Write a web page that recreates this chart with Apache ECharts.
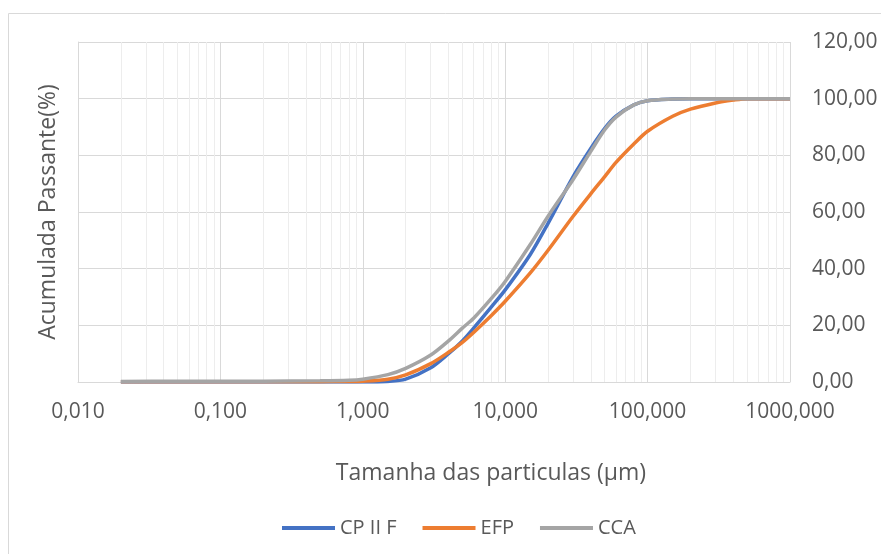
<!DOCTYPE html>
<html lang="pt">
<head>
    <meta charset="UTF-8">
    <title>Curva granulométrica</title>
    <style>
        html, body { margin: 0; padding: 0; background: #fff; }
        #chart { width: 881px; height: 554px; }
    </style>
    <script src="https://cdn.jsdelivr.net/npm/echarts@6/dist/echarts.min.js"></script>
</head>
<body>
<div id="chart"></div>
<script>
    // particle sizes (µm) and cumulative passing (%)
    var sizes = [0.02, 0.05, 0.1, 0.2, 0.5, 0.8, 1, 1.5, 2, 3, 4, 5, 6, 8, 10, 15, 20, 30, 40, 50, 60, 80, 100, 150, 200, 300, 400, 500, 1000];
    var cp2f = [0, 0, 0, 0, 0, 0, 0, 0.2, 1, 5, 10, 14.5, 19, 26.5, 32.5, 45, 56, 72.5, 82.5, 89.5, 93.8, 97.8, 99.3, 99.9, 100, 100, 100, 100, 100];
    var efp = [0.1, 0.1, 0.1, 0.1, 0.1, 0.2, 0.3, 1, 2.5, 6.5, 10.5, 14, 17.5, 23.5, 28.5, 38.5, 46.5, 58.5, 66.5, 72.5, 77.5, 84, 88.5, 93.8, 96.3, 98.5, 99.5, 100, 100];
    var cca = [0.2, 0.25, 0.3, 0.3, 0.4, 0.6, 1, 2.6, 4.8, 9.5, 14.5, 19, 22.5, 29.5, 35.5, 48.5, 58.5, 71.5, 81.5, 89, 93.5, 97.8, 99.3, 99.9, 100, 100, 100, 100, 100];
    var seriesNames = ['CP II F', 'EFP', 'CCA'];
    var seriesColors = ['#4472C4', '#ED7D31', '#A5A5A5'];

    var font = '"Open Sans", "Liberation Sans", sans-serif';
    var textColor = '#595959';

    // log minor grid lines: 2..9 in every decade
    var minorLines = [];
    for (var d = -2; d < 3; d++) {
        for (var k = 2; k <= 9; k++) {
            minorLines.push({ xAxis: k * Math.pow(10, d) });
        }
    }

    function pairs(values) {
        return sizes.map(function (s, i) { return [s, values[i]]; });
    }

    var chart = echarts.init(document.getElementById('chart'));

    var lineSeries = [cp2f, efp, cca].map(function (vals, i) {
        return {
            name: seriesNames[i],
            type: 'line',
            data: pairs(vals),
            yAxisIndex: 0,
            smooth: 0.3,
            showSymbol: false,
            symbol: 'none',
            z: 3 + i,
            lineStyle: { color: seriesColors[i], width: 3.5 },
            itemStyle: { color: seriesColors[i] }
        };
    });

    lineSeries.unshift({
        name: 'minor',
        type: 'line',
        data: [],
        z: 1,
        silent: true,
        markLine: {
            z: 1,
            silent: true,
            symbol: 'none',
            label: { show: false },
            animation: false,
            lineStyle: { color: '#EDEDED', width: 1, type: 'solid' },
            data: minorLines
        }
    });

    chart.setOption({
        animation: false,
        textStyle: { fontFamily: font },
        graphic: [{
            type: 'rect',
            shape: { x: 8.5, y: 13.5, width: 1000, height: 1000 },
            style: { fill: 'none', stroke: '#D9D9D9', lineWidth: 1 },
            silent: true
        }],
        grid: { left: 78, right: 91, top: 42, bottom: 172 },
        legend: {
            data: seriesNames,
            left: 277,
            top: 513,
            icon: 'rect',
            itemWidth: 53,
            itemHeight: 4,
            itemGap: 26,
            textStyle: { color: textColor, fontSize: 20, fontFamily: font }
        },
        xAxis: {
            type: 'log',
            logBase: 10,
            min: 0.01,
            max: 1000,
            name: 'Tamanha das particulas (µm)',
            nameLocation: 'middle',
            nameGap: 80,
            nameTextStyle: { color: textColor, fontSize: 23, fontFamily: font, padding: [0, 0, 0, 114] },
            axisLine: { show: true, lineStyle: { color: '#D9D9D9', width: 1 } },
            axisTick: { show: false },
            axisLabel: {
                color: textColor,
                fontSize: 21,
                margin: 20,
                formatter: function (v) { return v.toFixed(3).replace('.', ','); }
            },
            splitLine: { show: true, lineStyle: { color: '#D9D9D9', width: 1 } }
        },
        yAxis: [{
            type: 'value',
            position: 'right',
            min: 0,
            max: 120,
            interval: 20,
            axisLine: { show: false },
            axisTick: { show: false },
            axisLabel: {
                color: textColor,
                fontSize: 21,
                margin: 22,
                formatter: function (v) { return v.toFixed(2).replace('.', ','); }
            },
            splitLine: { show: true, lineStyle: { color: '#D9D9D9', width: 1 } }
        }, {
            type: 'value',
            position: 'left',
            min: 0,
            max: 120,
            name: 'Acumulada Passante(%)',
            nameLocation: 'middle',
            nameGap: 18,
            nameTextStyle: { color: textColor, fontSize: 23, fontFamily: font },
            axisLine: { show: true, lineStyle: { color: '#D9D9D9', width: 1 } },
            axisTick: { show: false },
            axisLabel: { show: false },
            splitLine: { show: false }
        }],
        series: lineSeries
    });
</script>
</body>
</html>
